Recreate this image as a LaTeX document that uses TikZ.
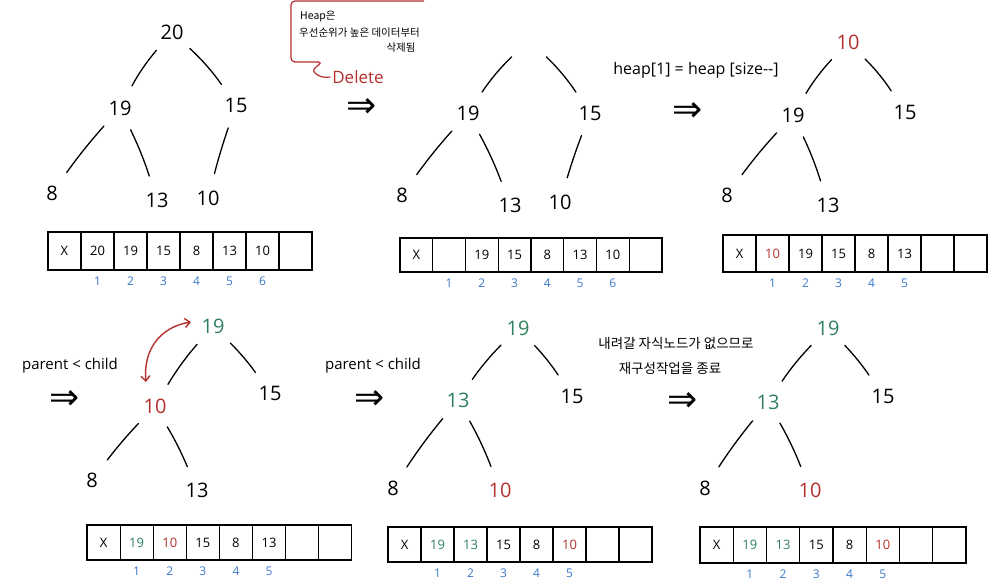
\documentclass[tikz,border=0pt]{standalone}
\usepackage{fontspec}
\setmainfont{Open Sans}
\newfontfamily\krfont{Noto Sans CJK KR}
\newfontfamily\symfont{DejaVu Sans}
\usetikzlibrary{arrows.meta}
\definecolor{hred}{HTML}{B3302D}
\definecolor{hgreen}{HTML}{2F7F5E}
\definecolor{hblue}{HTML}{3A78C9}

% one heap array: #1 name, #2 left x, #3 centre y, #4 cell width, #5 cell height, #6 values
\newcommand\heaprow[6]{%
  \foreach \v [count=\i from 0] in {#6} {
    \node[cell, minimum width=#4pt, minimum height=#5pt] (#1-\i) at ({#2+(\i+0.5)*#4}, #3) {\v};
  }}
% index labels under cells 1..#2 of array #1
\newcommand\heapidx[2]{%
  \foreach \i in {1,...,#2} {
    \node[idx, below=6pt] (#1-i\i) at (#1-\i.south) {\i};
  }}

\begin{document}
\begin{tikzpicture}[x=1pt, y=-1pt,
  key/.style={circle, minimum size=28pt, inner sep=0pt, font=\fontsize{20}{20}\selectfont},
  tedge/.style={line width=1.3pt, line cap=round, shorten <=10pt, shorten >=11pt},
  cell/.style={draw, line width=1.1pt, inner sep=0pt, font=\fontsize{13}{13}\selectfont},
  idx/.style={text=hblue, font=\fontsize{12}{12}\selectfont, inner sep=0pt},
  imp/.style={font=\symfont\fontsize{36}{36}\selectfont, inner sep=0pt},
  note/.style={font=\fontsize{15}{15}\selectfont, inner sep=0pt},
  krnote/.style={font=\krfont\fontsize{13.5}{13.5}\selectfont, inner sep=0pt},
  krsmall/.style={font=\krfont\fontsize{10.5}{10.5}\selectfont, inner sep=0pt},
  swaparrow/.style={hred, line width=1.4pt, {Straight Barb[length=5pt,width=9pt]}-{Straight Barb[length=5pt,width=9pt]}}
]
\useasboundingbox (0,0) rectangle (997,588);

% ---------- step 1: the heap before deletion ----------
\node[key] (t1a) at (172,32) {20};
\node[key] (t1b) at (120,108) {19};
\node[key] (t1c) at (236,105) {15};
\node[key] (t1d) at (52,193) {8};
\node[key] (t1e) at (157,200) {13};
\node[key] (t1f) at (208,198) {10};
\draw[tedge] (t1a) to[bend right=6] (t1b);
\draw[tedge] (t1a) to[bend left=6] (t1c);
\draw[tedge] (t1b) to[bend right=3] (t1d);
\draw[tedge] (t1b) to[bend left=4] (t1e);
\draw[tedge] (t1c) to[bend right=2] (t1f);
\heaprow{a1}{48}{251}{33}{38}{X,20,19,15,8,13,10,{}}
\heapidx{a1}{6}

% ---------- callout: deletion starts at the root ----------
\draw[hred, line width=1.2pt, rounded corners=4pt]
  (424,1) -- (291,1) -- (291,62) -- (318,62);
\draw[hred, line width=1.2pt, line cap=round]
  (318,62) .. controls (326,63) and (309,68) .. (315,73)
           .. controls (319,77) and (325,78) .. (330,77);
\node[krsmall, anchor=west] (c1) at (300,17) {Heap은};
\node[krsmall, anchor=west] (c2) at (299,33) {우선순위가 높은 데이터부터};
\node[krsmall] (c3) at (401,48) {삭제됨};
\node[text=hred, font=\fontsize{17}{17}\selectfont, inner sep=0pt] (del) at (358,77) {Delete};

% ---------- step 2: root removed ----------
\node[imp] (i1) at (362,108) {⇒};
\node[key] (t2a) at (529,40) {};
\node[key] (t2b) at (468,113) {19};
\node[key] (t2c) at (590,113) {15};
\node[key] (t2d) at (402,195) {8};
\node[key] (t2e) at (510,205) {13};
\node[key] (t2f) at (560,202) {10};
\draw[tedge] (t2a) to[bend right=6] (t2b);
\draw[tedge] (t2a) to[bend left=6] (t2c);
\draw[tedge] (t2b) to[bend right=3] (t2d);
\draw[tedge] (t2b) to[bend left=4] (t2e);
\draw[tedge] (t2c) to[bend right=2] (t2f);
\heaprow{a2}{400}{255}{32.75}{34}{X,{},19,15,8,13,10,{}}
\heapidx{a2}{6}

% ---------- step 3: last element moved to the root ----------
\node[note, font=\fontsize{16}{16}\selectfont] (code) at (696,70) {heap[1] = heap [size-{}-]};
\node[imp] (i2) at (688,112) {⇒};
\node[key, text=hred] (t3a) at (848,42) {10};
\node[key] (t3b) at (793,115) {19};
\node[key] (t3c) at (905,112) {15};
\node[key] (t3d) at (727,195) {8};
\node[key] (t3e) at (828,205) {13};
\draw[tedge] (t3a) to[bend right=6] (t3b);
\draw[tedge] (t3a) to[bend left=6] (t3c);
\draw[tedge] (t3b) to[bend right=3] (t3d);
\draw[tedge] (t3b) to[bend left=4] (t3e);
\heaprow{a3}{723}{253.5}{33}{37}{X,{\textcolor{hred}{10}},19,15,8,13,{},{}}
\heapidx{a3}{5}

% ---------- step 4: swap root with the larger child ----------
\node[note] (p1) at (70,366) {parent < child};
\node[imp] (i3) at (65,400) {⇒};
\node[key, text=hgreen] (t4a) at (213,326) {19};
\node[key, text=hred] (t4b) at (155,406) {10};
\node[key] (t4c) at (270,393) {15};
\node[key] (t4d) at (92,480) {8};
\node[key] (t4e) at (197,490) {13};
\draw[tedge] (t4a) to[bend right=5] (t4b);
\draw[tedge] (t4a) to[bend left=5] (t4c);
\draw[tedge] (t4b) to[bend right=3] (t4d);
\draw[tedge] (t4b) to[bend left=4] (t4e);
\coordinate (s1) at (191,322);
\coordinate (s2) at (146,382);
\draw[swaparrow] (s2) .. controls (143,350) and (160,327) .. (s1);
\heaprow{a4}{87}{542.5}{33.1}{35}{X,{\textcolor{hgreen}{19}},{\textcolor{hred}{10}},15,8,13,{},{}}
\heapidx{a4}{5}

% ---------- step 5: 10 moves down below 13 ----------
\node[note] (p2) at (373,366) {parent < child};
\node[imp] (i4) at (370,400) {⇒};
\node[key, text=hgreen] (t5a) at (518,328) {19};
\node[key, text=hgreen] (t5b) at (458,400) {13};
\node[key] (t5c) at (572,396) {15};
\node[key] (t5d) at (393,488) {8};
\node[key, text=hred] (t5e) at (500,490) {10};
\draw[tedge] (t5a) to[bend right=5] (t5b);
\draw[tedge] (t5a) to[bend left=5] (t5c);
\draw[tedge] (t5b) to[bend right=3] (t5d);
\draw[tedge] (t5b) to[bend left=4] (t5e);
\heaprow{a5}{388}{544.5}{33}{35}{X,{\textcolor{hgreen}{19}},{\textcolor{hgreen}{13}},15,8,{\textcolor{hred}{10}},{},{}}
\heapidx{a5}{5}

% ---------- step 6: no child left, rebuild ends ----------
\node[krnote] (k1) at (676,343) {내려갈 자식노드가 없으므로};
\node[krnote] (k2) at (670,368) {재구성작업을 종료};
\node[imp] (i5) at (683,402) {⇒};
\node[key, text=hgreen] (t6a) at (828,328) {19};
\node[key, text=hgreen] (t6b) at (768,402) {13};
\node[key] (t6c) at (883,396) {15};
\node[key] (t6d) at (705,488) {8};
\node[key, text=hred] (t6e) at (810,490) {10};
\draw[tedge] (t6a) to[bend right=5] (t6b);
\draw[tedge] (t6a) to[bend left=5] (t6c);
\draw[tedge] (t6b) to[bend right=3] (t6d);
\draw[tedge] (t6b) to[bend left=4] (t6e);
\heaprow{a6}{700}{545}{33.25}{36}{X,{\textcolor{hgreen}{19}},{\textcolor{hgreen}{13}},15,8,{\textcolor{hred}{10}},{},{}}
\heapidx{a6}{5}
\end{tikzpicture}
\end{document}
